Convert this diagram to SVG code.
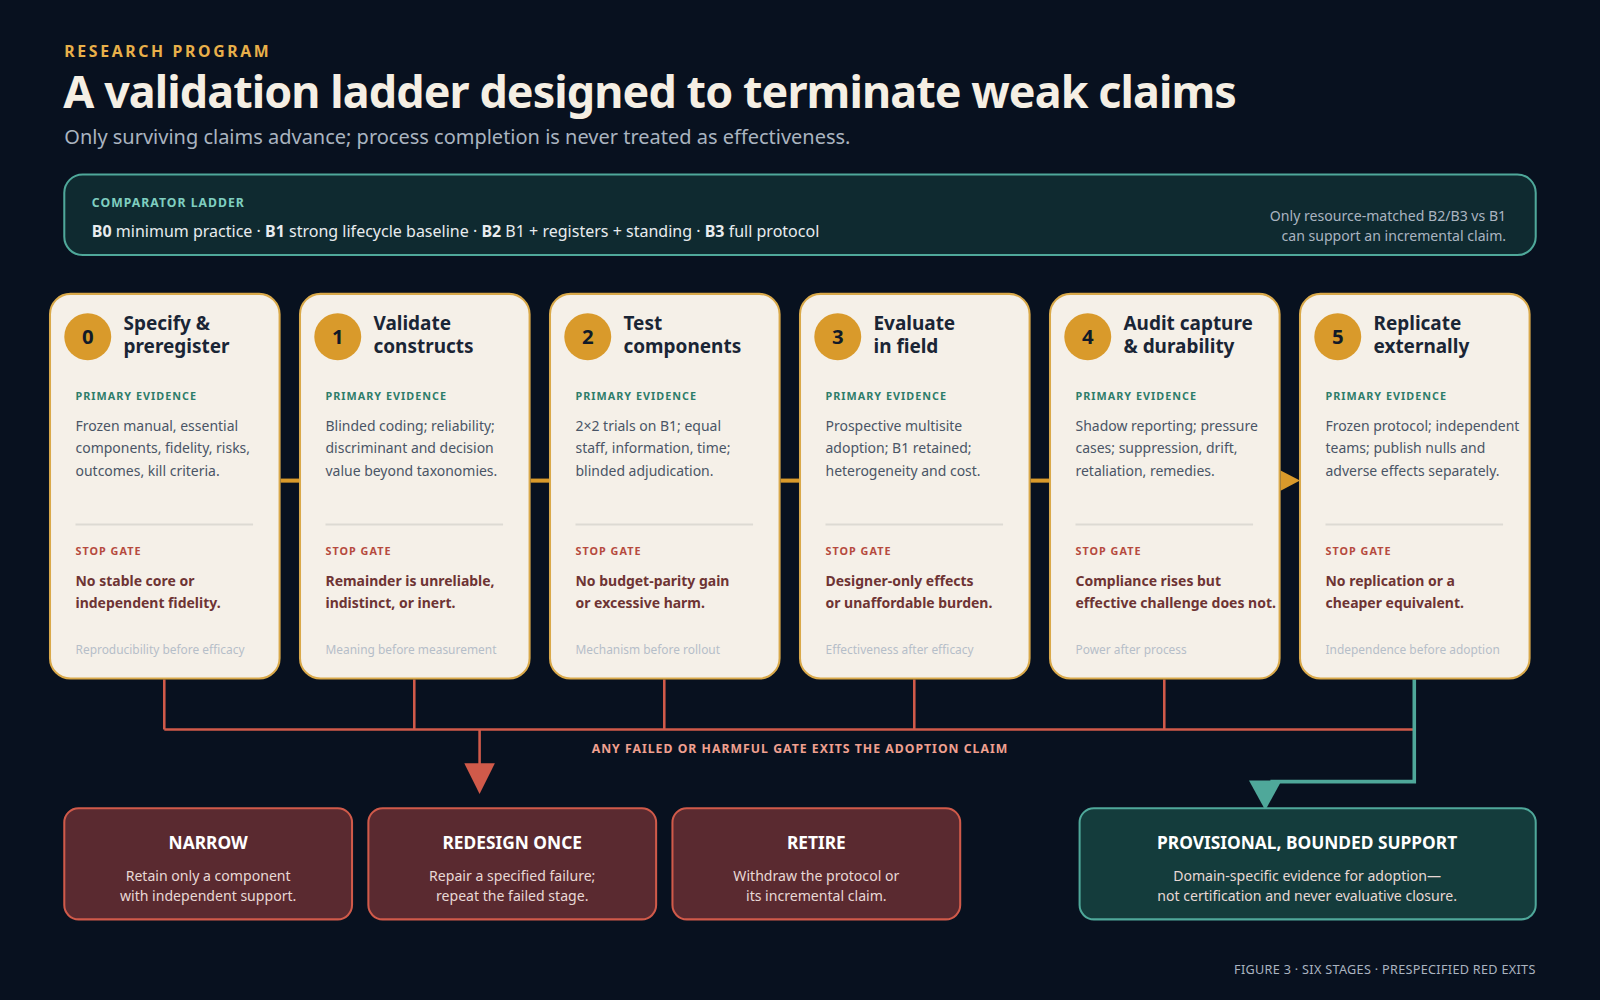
<svg xmlns="http://www.w3.org/2000/svg" width="1600" height="1000" viewBox="0 0 1600 1000">
<defs>
<style>
text{font-family:"Noto Sans","Open Sans",sans-serif}
.card{fill:#f5f0e8;stroke:#d9a94a;stroke-width:2}
.num{fill:#d99a2b}
.numt{font-size:20px;font-weight:700;fill:#111a28;text-anchor:middle}
.ct{font-size:18.6px;font-weight:700;fill:#1a2535}
.pe{font-size:10.6px;font-weight:700;fill:#2e7d6a;letter-spacing:1px}
.body{font-size:13.7px;fill:#4a5566}
.div{stroke:#dddad3;stroke-width:2}
.sg{font-size:10.6px;font-weight:700;fill:#b54a3e;letter-spacing:1px}
.st{font-size:13.7px;font-weight:700;fill:#6e3434}
.ft{font-size:11.7px;fill:#b5bec8}
.red{fill:#5a2a30;stroke:#d05a4a;stroke-width:2}
.bt{font-size:17px;font-weight:700;fill:#ffffff;text-anchor:middle}
.bb{font-size:13.8px;fill:#e8d8d5;text-anchor:middle}
</style>
</defs>
<rect width="1600" height="1000" fill="#08111f"/>
<g transform="scale(1.020408)">
<text x="63" y="56" font-size="15.5" font-weight="700" fill="#e8b04a" letter-spacing="2.6">RESEARCH PROGRAM</text>
<text x="62" y="106" font-size="44" font-weight="700" fill="#f5efe4" letter-spacing="-0.9">A validation ladder designed to terminate weak claims</text>
<text x="63" y="141" font-size="19.6" fill="#aab4c0">Only surviving claims advance; process completion is never treated as effectiveness.</text>
<g id="comparator">
<rect x="63" y="171" width="1442" height="79" rx="18" fill="#0f2a30" stroke="#4fa89a" stroke-width="2"/>
<text x="90" y="203" font-size="12" font-weight="700" fill="#7fcfc0" letter-spacing="1">COMPARATOR LADDER</text>
<text x="90" y="232" font-size="15.7" fill="#e8ecef"><tspan font-weight="700">B0</tspan> minimum practice · <tspan font-weight="700">B1</tspan> strong lifecycle baseline · <tspan font-weight="700">B2</tspan> B1 + registers + standing · <tspan font-weight="700">B3</tspan> full protocol</text>
<text x="1476" y="217" font-size="13.8" fill="#aab4c0" text-anchor="end">Only resource-matched B2/B3 vs B1</text>
<text x="1476" y="236" font-size="13.8" fill="#aab4c0" text-anchor="end">can support an incremental claim.</text>
</g>
<g id="connectors">
<g stroke="#d99a2b" stroke-width="4">
<line x1="275" y1="471" x2="293" y2="471"/><line x1="520" y1="471" x2="538" y2="471"/><line x1="765" y1="471" x2="783" y2="471"/><line x1="1010" y1="471" x2="1028" y2="471"/>
</g>
<polygon points="1255,461 1274,471 1255,481" fill="#d99a2b"/>
<g stroke="#d05a4a" stroke-width="2.5" fill="none">
<path d="M161 666V715M406 666V715M651 666V715M896 666V715M1141 666V715M161 715H1386M470 715V750"/>
</g>
<polygon points="455,748 485,748 470,778" fill="#d05a4a"/>
<path d="M1386 666V766H1245" stroke="#4fa89a" stroke-width="3.5" fill="none"/>
<polygon points="1224,765 1256,765 1240,794" fill="#4fa89a"/>
<text x="784" y="738" font-size="12" font-weight="700" fill="#f0a090" letter-spacing="1" text-anchor="middle">ANY FAILED OR HARMFUL GATE EXITS THE ADOPTION CLAIM</text>
</g>
<g id="stage0" transform="translate(49,0)">
<rect class="card" x="0" y="288" width="225" height="377" rx="20"/><circle class="num" cx="37" cy="330" r="23"/><text class="numt" x="37" y="337">0</text>
<text class="ct" x="72" y="323">Specify &amp;</text><text class="ct" x="72" y="346">preregister</text>
<text class="pe" x="25" y="392">PRIMARY EVIDENCE</text>
<text class="body" x="25" y="422">Frozen manual, essential</text><text class="body" x="25" y="444">components, fidelity, risks,</text><text class="body" x="25" y="466">outcomes, kill criteria.</text>
<line class="div" x1="25" y1="514" x2="199" y2="514"/><text class="sg" x="25" y="544">STOP GATE</text>
<text class="st" x="25" y="574">No stable core or</text><text class="st" x="25" y="596">independent fidelity.</text>
<text class="ft" x="25" y="641">Reproducibility before efficacy</text>
</g>
<g id="stage1" transform="translate(294,0)">
<rect class="card" x="0" y="288" width="225" height="377" rx="20"/><circle class="num" cx="37" cy="330" r="23"/><text class="numt" x="37" y="337">1</text>
<text class="ct" x="72" y="323">Validate</text><text class="ct" x="72" y="346">constructs</text>
<text class="pe" x="25" y="392">PRIMARY EVIDENCE</text>
<text class="body" x="25" y="422">Blinded coding; reliability;</text><text class="body" x="25" y="444">discriminant and decision</text><text class="body" x="25" y="466">value beyond taxonomies.</text>
<line class="div" x1="25" y1="514" x2="199" y2="514"/><text class="sg" x="25" y="544">STOP GATE</text>
<text class="st" x="25" y="574">Remainder is unreliable,</text><text class="st" x="25" y="596">indistinct, or inert.</text>
<text class="ft" x="25" y="641">Meaning before measurement</text>
</g>
<g id="stage2" transform="translate(539,0)">
<rect class="card" x="0" y="288" width="225" height="377" rx="20"/><circle class="num" cx="37" cy="330" r="23"/><text class="numt" x="37" y="337">2</text>
<text class="ct" x="72" y="323">Test</text><text class="ct" x="72" y="346">components</text>
<text class="pe" x="25" y="392">PRIMARY EVIDENCE</text>
<text class="body" x="25" y="422">2×2 trials on B1; equal</text><text class="body" x="25" y="444">staff, information, time;</text><text class="body" x="25" y="466">blinded adjudication.</text>
<line class="div" x1="25" y1="514" x2="199" y2="514"/><text class="sg" x="25" y="544">STOP GATE</text>
<text class="st" x="25" y="574">No budget-parity gain</text><text class="st" x="25" y="596">or excessive harm.</text>
<text class="ft" x="25" y="641">Mechanism before rollout</text>
</g>
<g id="stage3" transform="translate(784,0)">
<rect class="card" x="0" y="288" width="225" height="377" rx="20"/><circle class="num" cx="37" cy="330" r="23"/><text class="numt" x="37" y="337">3</text>
<text class="ct" x="72" y="323">Evaluate</text><text class="ct" x="72" y="346">in field</text>
<text class="pe" x="25" y="392">PRIMARY EVIDENCE</text>
<text class="body" x="25" y="422">Prospective multisite</text><text class="body" x="25" y="444">adoption; B1 retained;</text><text class="body" x="25" y="466">heterogeneity and cost.</text>
<line class="div" x1="25" y1="514" x2="199" y2="514"/><text class="sg" x="25" y="544">STOP GATE</text>
<text class="st" x="25" y="574">Designer-only effects</text><text class="st" x="25" y="596">or unaffordable burden.</text>
<text class="ft" x="25" y="641">Effectiveness after efficacy</text>
</g>
<g id="stage4" transform="translate(1029,0)">
<rect class="card" x="0" y="288" width="225" height="377" rx="20"/><circle class="num" cx="37" cy="330" r="23"/><text class="numt" x="37" y="337">4</text>
<text class="ct" x="72" y="323">Audit capture</text><text class="ct" x="72" y="346">&amp; durability</text>
<text class="pe" x="25" y="392">PRIMARY EVIDENCE</text>
<text class="body" x="25" y="422">Shadow reporting; pressure</text><text class="body" x="25" y="444">cases; suppression, drift,</text><text class="body" x="25" y="466">retaliation, remedies.</text>
<line class="div" x1="25" y1="514" x2="199" y2="514"/><text class="sg" x="25" y="544">STOP GATE</text>
<text class="st" x="25" y="574">Compliance rises but</text><text class="st" x="25" y="596">effective challenge does not.</text>
<text class="ft" x="25" y="641">Power after process</text>
</g>
<g id="stage5" transform="translate(1274,0)">
<rect class="card" x="0" y="288" width="225" height="377" rx="20"/><circle class="num" cx="37" cy="330" r="23"/><text class="numt" x="37" y="337">5</text>
<text class="ct" x="72" y="323">Replicate</text><text class="ct" x="72" y="346">externally</text>
<text class="pe" x="25" y="392">PRIMARY EVIDENCE</text>
<text class="body" x="25" y="422">Frozen protocol; independent</text><text class="body" x="25" y="444">teams; publish nulls and</text><text class="body" x="25" y="466">adverse effects separately.</text>
<line class="div" x1="25" y1="514" x2="199" y2="514"/><text class="sg" x="25" y="544">STOP GATE</text>
<text class="st" x="25" y="574">No replication or a</text><text class="st" x="25" y="596">cheaper equivalent.</text>
<text class="ft" x="25" y="641">Independence before adoption</text>
</g>
<g id="narrow"><rect class="red" x="63" y="792" width="282" height="109" rx="14"/><text class="bt" x="204" y="832">NARROW</text><text class="bb" x="204" y="863">Retain only a component</text><text class="bb" x="204" y="883">with independent support.</text></g>
<g id="redesign"><rect class="red" x="361" y="792" width="282" height="109" rx="14"/><text class="bt" x="502" y="832">REDESIGN ONCE</text><text class="bb" x="502" y="863">Repair a specified failure;</text><text class="bb" x="502" y="883">repeat the failed stage.</text></g>
<g id="retire"><rect class="red" x="659" y="792" width="282" height="109" rx="14"/><text class="bt" x="800" y="832">RETIRE</text><text class="bb" x="800" y="863">Withdraw the protocol or</text><text class="bb" x="800" y="883">its incremental claim.</text></g>
<g id="support"><rect x="1058" y="792" width="447" height="109" rx="14" fill="#143c3c" stroke="#4fa89a" stroke-width="2"/><text class="bt" x="1281" y="832">PROVISIONAL, BOUNDED SUPPORT</text><text class="bb" x="1281" y="863">Domain-specific evidence for adoption—</text><text class="bb" x="1281" y="883">not certification and never evaluative closure.</text></g>
<text x="1505" y="955" font-size="12.4" fill="#aab4c0" text-anchor="end" letter-spacing="0.3">FIGURE 3 · SIX STAGES · PRESPECIFIED RED EXITS</text>
</g>
</svg>
